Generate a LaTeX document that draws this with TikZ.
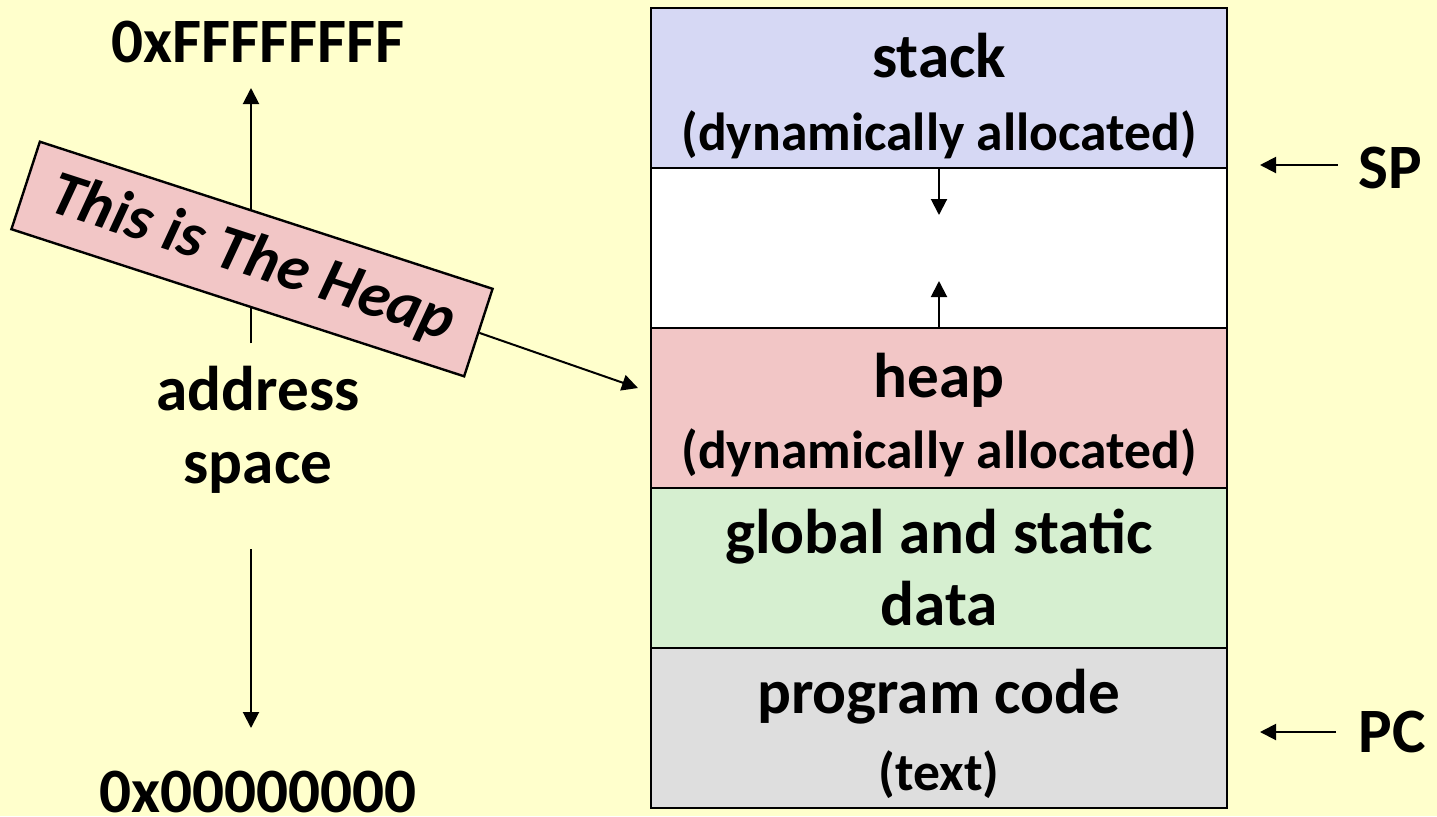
\documentclass[tikz,border=0pt]{standalone}
\usepackage{fontspec}
\setmainfont{Carlito}
\usetikzlibrary{arrows.meta}
\definecolor{paper}{RGB}{255,255,204}
\definecolor{stackblue}{RGB}{214,216,244}
\definecolor{heapred}{RGB}{242,198,198}
\definecolor{datagreen}{RGB}{214,239,208}
\definecolor{codegray}{RGB}{222,222,222}
\tikzset{
  row/.style={draw=black,line width=1.2pt,minimum width=288pt,minimum height=80pt,inner sep=0pt,outer sep=0pt},
  big/.style={anchor=base,inner sep=0pt,font=\fontsize{31.6}{36}\selectfont\bfseries},
  small/.style={anchor=base,inner sep=0pt,font=\fontsize{26.8}{32}\selectfont\bfseries},
  arr/.style={-{Triangle[length=8pt,width=8pt]},line width=1pt}
}
\begin{document}
\begin{tikzpicture}[x=0.5pt,y=-0.5pt]
\fill[paper] (0,0) rectangle (1437,816);
\useasboundingbox (0,0) rectangle (1437,816);

% memory column
\node[row,fill=stackblue] (stack) at (939,88){};
\node[row,fill=white] (gap) at (939,248){};
\node[row,fill=heapred] (heap) at (939,408){};
\node[row,fill=datagreen] (data) at (939,568){};
\node[row,fill=codegray] (code) at (939,728){};

\node[big] (stacklbl) at (939,77) {stack};
\node[small] (stacknote) at (939,150) {(dynamically allocated)};
\node[big] (heaplbl) at (939,397) {heap};
\node[small] (heapnote) at (939,468) {(dynamically allocated)};
\node[big] (datalbl) at (939,553) {global and static};
\node[big] (datalbl2) at (939,625) {data};
\node[big] (codelbl) at (939,713) {program code};
\node[small] (codenote) at (939,790) {(text)};

\coordinate (stackgrow) at (939,215);
\coordinate (heapgrow) at (939,281);
\draw[arr] (stack.south) -- (stackgrow);
\draw[arr] (heap.north) -- (heapgrow);

% registers
\node[big] (sp) at (1390,188) {SP};
\node[big] (pc) at (1392,752) {PC};
\coordinate (sptip) at (1260,165);
\coordinate (pctip) at (1260,732);
\draw[arr,shorten <=10pt] (sp.west |- sptip) -- (sptip);
\draw[arr,shorten <=11pt] (pc.west |- pctip) -- (pctip);

% address space
\node[big] (hi) at (258,62) {0xFFFFFFFF};
\node[big] (addr) at (258,410) {address};
\node[big] (addr2) at (258,483) {space};
\node[big] (lo) at (258,812) {0x00000000};
\coordinate (hitip) at (251,88);
\coordinate (lotip) at (251,728);
\draw[arr,shorten <=11pt] (addr.north -| hitip) -- (hitip);
\draw[arr,shorten <=28pt] (addr2.south -| lotip) -- (lotip);

% the callout
\node[draw=black,line width=1.2pt,fill=heapred,rotate=-18,minimum width=238pt,minimum height=46pt,
  font=\fontsize{31.6}{36}\selectfont\bfseries\itshape] (note) at (252,259) {This is The Heap};
\coordinate (heapptr) at (638,388);
\draw[arr] (note.east) -- (heapptr);
\end{tikzpicture}
\end{document}
